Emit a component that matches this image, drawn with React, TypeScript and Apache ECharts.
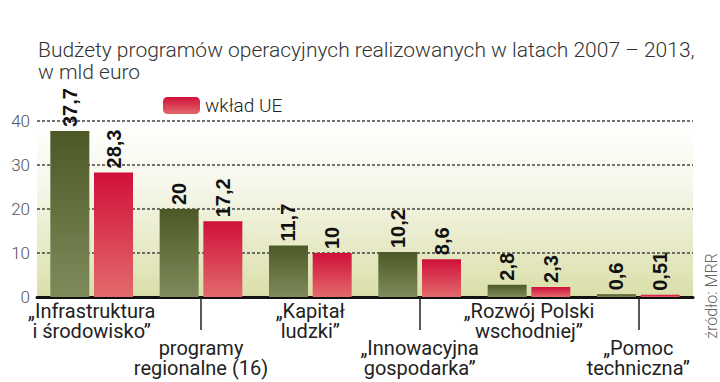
import React, { useEffect, useRef } from "react";
import * as echarts from "echarts";

const categories = [
  "„Infrastruktura\ni środowisko”",
  "programy\nregionalne (16)",
  "„Kapitał\nludzki”",
  "„Innowacyjna\ngospodarka”",
  "„Rozwój Polski\nwschodniej”",
  "„Pomoc\ntechniczna”",
];
const totalBudget = [37.7, 20, 11.7, 10.2, 2.8, 0.6];
const euContribution = [28.3, 17.2, 10, 8.6, 2.3, 0.51];
const yTicks = [0, 10, 20, 30, 40];

const TITLE = "Budżety programów operacyjnych realizowanych w latach 2007 – 2013,\nw mld euro";
const SANS = 'Roboto, "Liberation Sans", sans-serif';

export default function App() {
  const ref = useRef<HTMLDivElement>(null);
  useEffect(() => {
    if (!ref.current) return;
    const chart = echarts.init(ref.current, undefined, { renderer: "svg" });
    const green = new echarts.graphic.LinearGradient(0, 0, 0, 1, [
      { offset: 0, color: "#4c5826" },
      { offset: 1, color: "#7f8b5a" },
    ]);
    const red = new echarts.graphic.LinearGradient(0, 0, 0, 1, [
      { offset: 0, color: "#d0103a" },
      { offset: 1, color: "#e26a6c" },
    ]);
    const fmt = (p: any) => String(p.value).replace(".", ",");
    const valueLabel = {
      show: true,
      position: "top" as const,
      rotate: 90,
      align: "left" as const,
      verticalAlign: "middle" as const,
      distance: 4,
      formatter: fmt,
      color: "#111",
      fontFamily: '"Liberation Sans", Arial, sans-serif',
      fontWeight: "bold" as const,
      fontSize: 20,
    };
    chart.setOption({
      animation: false,
      backgroundColor: "#ffffff",
      title: {
        text: TITLE,
        left: 33,
        top: 34,
        textStyle: {
          fontFamily: SANS,
          fontSize: 21,
          lineHeight: 22,
          fontWeight: 300,
          color: "#333",
        },
      },
      legend: {
        data: ["wkład UE"],
        left: 163,
        top: 96,
        padding: 0,
        icon: "roundRect",
        itemWidth: 37,
        itemHeight: 17,
        textStyle: { fontFamily: SANS, fontSize: 19, fontWeight: 300, color: "#222" },
      },
      grid: {
        left: 37,
        right: 27,
        top: 121,
        bottom: 85,
        show: true,
        borderWidth: 0,
        backgroundColor: new echarts.graphic.LinearGradient(0, 0, 0, 1, [
          { offset: 0, color: "#ffffff" },
          { offset: 0.35, color: "#f7f7ec" },
          { offset: 1, color: "#dadfa9" },
        ]),
      },
      xAxis: {
        type: "category",
        data: categories,
        axisLine: { lineStyle: { color: "#111", width: 3 } },
        axisTick: {
          show: true,
          alignWithLabel: true,
          interval: (i: number) => i % 2 === 1,
          length: 33,
          lineStyle: { color: "#222", width: 1.5 },
        },
        axisLabel: {
          interval: 0,
          margin: 4,
          formatter: (v: string, i: number) => {
            const lines = v.split("\n").map((l) => `{t|${l}}`).join("\n");
            return i % 2 === 1 ? `{sp| }\n{sp| }\n${lines}` : lines;
          },
          rich: {
            t: { fontFamily: SANS, fontSize: 20, lineHeight: 20, color: "#222" },
            sp: { fontSize: 10, lineHeight: 18.5 },
          },
        },
      },
      yAxis: {
        type: "value",
        min: yTicks[0],
        max: yTicks[yTicks.length - 1],
        interval: 10,
        axisLine: { show: false },
        axisTick: { show: false },
        axisLabel: {
          margin: 7,
          fontFamily: SANS,
          fontSize: 17,
          fontWeight: 300,
          color: "#555",
        },
        splitLine: {
          show: true,
          lineStyle: { color: "#444", width: 1.5, type: [3, 2] },
        },
      },
      series: [
        {
          name: "budżet",
          type: "bar",
          data: totalBudget,
          barWidth: 39,
          barGap: "12%",
          itemStyle: { color: green },
          label: valueLabel,
        },
        {
          name: "wkład UE",
          type: "bar",
          data: euContribution,
          barWidth: 39,
          barGap: "12%",
          itemStyle: { color: red },
          label: valueLabel,
        },
      ],
      graphic: [
        {
          type: "text",
          x: 711,
          y: 296,
          rotation: Math.PI / 2,
          style: {
            text: "źródło: MRR",
            fontFamily: SANS,
            fontSize: 16,
            fontWeight: 300,
            fill: "#666",
            align: "center",
            verticalAlign: "middle",
          },
        },
      ],
    });
    return () => chart.dispose();
  }, []);
  return <div ref={ref} style={{ width: 720, height: 382, position: "absolute", left: 0, top: 0 }} />;
}
